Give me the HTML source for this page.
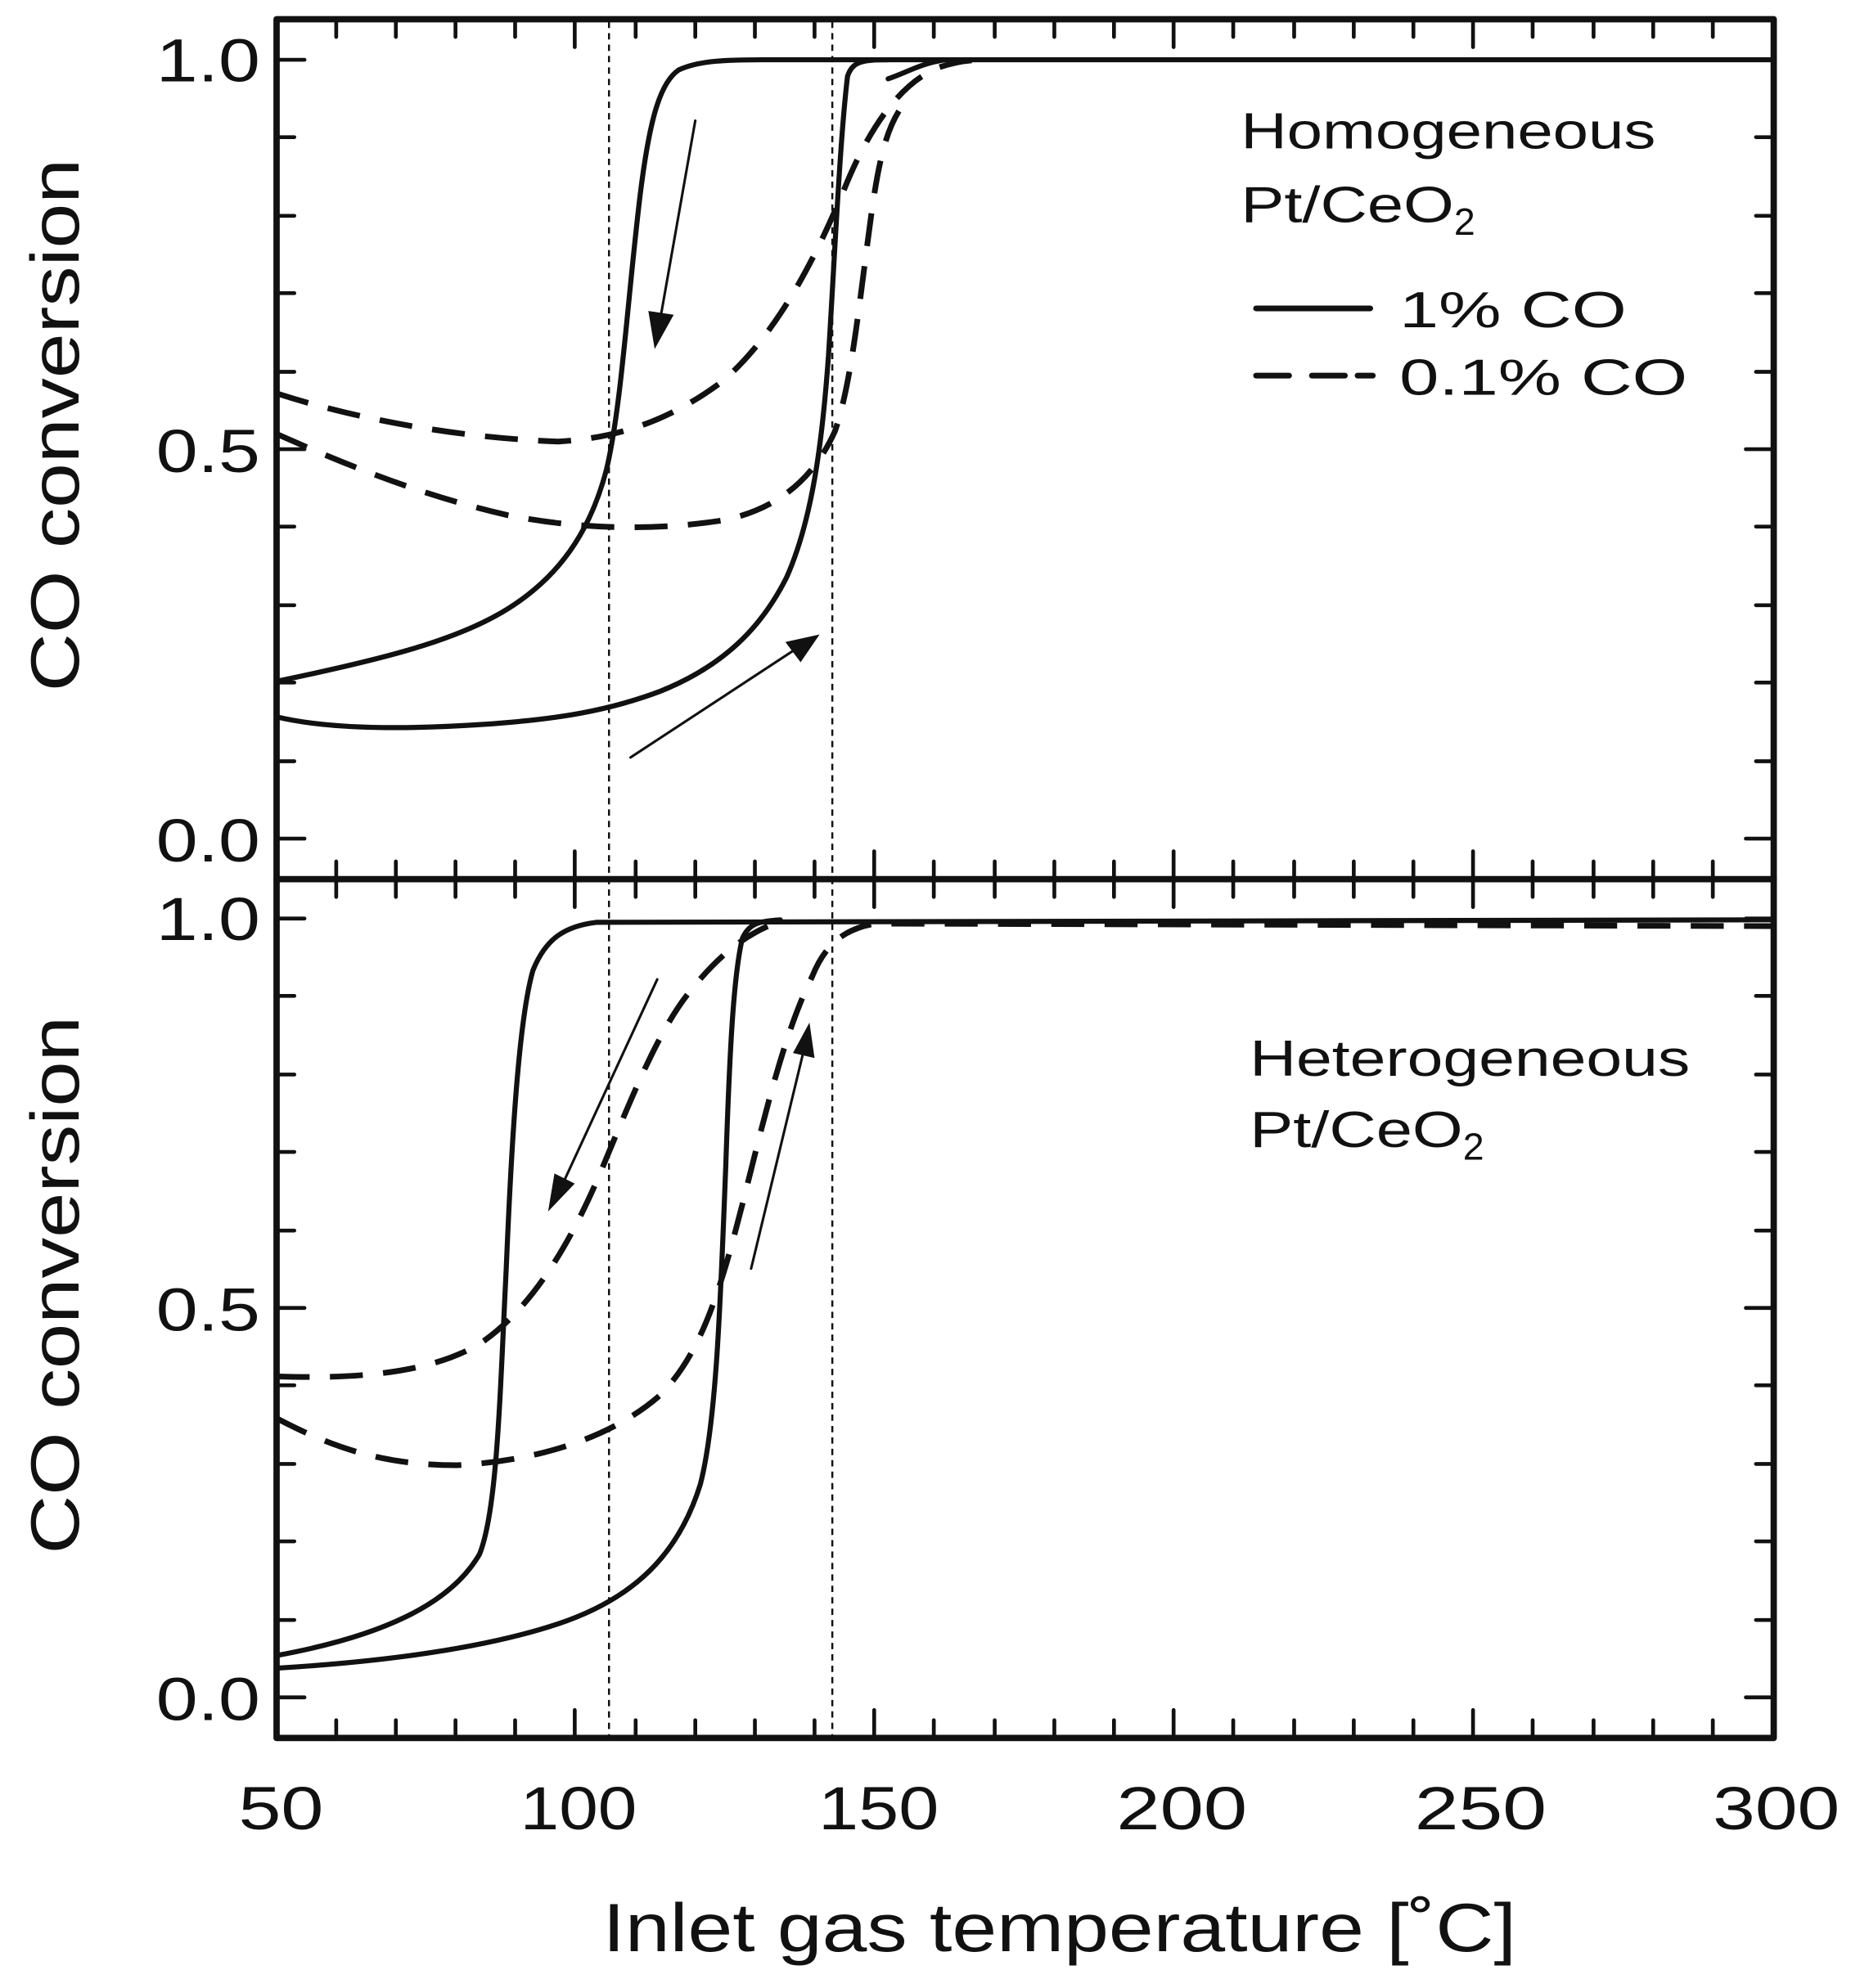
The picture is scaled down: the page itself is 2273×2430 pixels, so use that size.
<!DOCTYPE html>
<html><head><meta charset="utf-8"><style>
html,body{margin:0;padding:0;background:#fff}
svg{display:block}
text{font-family:"Liberation Sans",Arial,sans-serif;fill:#111}
</style></head><body>
<svg width="2273" height="2430" viewBox="0 0 1466 1567" xmlns="http://www.w3.org/2000/svg">
<g fill="none" stroke="#111" stroke-linejoin="round" stroke-linecap="round">
<rect x="218" y="15" width="1180" height="1355" stroke-width="5"/>
<line x1="218" y1="693" x2="1398" y2="693" stroke-width="5"/>
<g stroke-width="3">
<path d="M265,15v14M312,15v14M359,15v14M406,15v14M453,15v22M501,15v14M548,15v14M595,15v14M642,15v14M689,15v22M736,15v14M784,15v14M831,15v14M878,15v14M925,15v22M972,15v14M1020,15v14M1067,15v14M1114,15v14M1161,15v22M1208,15v14M1256,15v14M1303,15v14M1350,15v14"/>
<path d="M265,693v-14M312,693v-14M359,693v-14M406,693v-14M453,693v-22M501,693v-14M548,693v-14M595,693v-14M642,693v-14M689,693v-22M736,693v-14M784,693v-14M831,693v-14M878,693v-14M925,693v-22M972,693v-14M1020,693v-14M1067,693v-14M1114,693v-14M1161,693v-22M1208,693v-14M1256,693v-14M1303,693v-14M1350,693v-14"/>
<path d="M265,693v14M312,693v14M359,693v14M406,693v14M453,693v22M501,693v14M548,693v14M595,693v14M642,693v14M689,693v22M736,693v14M784,693v14M831,693v14M878,693v14M925,693v22M972,693v14M1020,693v14M1067,693v14M1114,693v14M1161,693v22M1208,693v14M1256,693v14M1303,693v14M1350,693v14"/>
<path d="M265,1370v-14M312,1370v-14M359,1370v-14M406,1370v-14M453,1370v-22M501,1370v-14M548,1370v-14M595,1370v-14M642,1370v-14M689,1370v-22M736,1370v-14M784,1370v-14M831,1370v-14M878,1370v-14M925,1370v-22M972,1370v-14M1020,1370v-14M1067,1370v-14M1114,1370v-14M1161,1370v-22M1208,1370v-14M1256,1370v-14M1303,1370v-14M1350,1370v-14"/>
</g>
<g stroke-width="3">
<path d="M218,661h22M218,600h14M218,538h14M218,477h14M218,415h14M218,354h22M218,293h14M218,231h14M218,170h14M218,108h14M218,47h22"/>
<path d="M1398,661h-22M1398,600h-14M1398,538h-14M1398,477h-14M1398,415h-14M1398,354h-22M1398,293h-14M1398,231h-14M1398,170h-14M1398,108h-14M1398,47h-22"/>
<path d="M218,1338h22M218,1277h14M218,1215h14M218,1154h14M218,1092h14M218,1031h22M218,970h14M218,908h14M218,847h14M218,785h14M218,724h22"/>
<path d="M1398,1338h-22M1398,1277h-14M1398,1215h-14M1398,1154h-14M1398,1092h-14M1398,1031h-22M1398,970h-14M1398,908h-14M1398,847h-14M1398,785h-14M1398,724h-22"/>
</g>
<g stroke-width="1.6" stroke-dasharray="5,4" stroke-linecap="butt">
<line x1="480" y1="17" x2="480" y2="1368"/>
<line x1="656" y1="17" x2="656" y2="1368"/>
</g>
<g stroke-width="4">
<path d="M218,537 C300,520 360,505 400,480 C440,455 465,420 478,370 C490,320 495,230 505,150 C512,95 520,65 535,55 C550,48 570,47 600,47 L1398,47"/>
<path d="M218,565 C260,575 320,575 380,571 C440,567 480,560 520,545 C570,525 600,495 620,455 C640,410 648,350 653,280 C658,200 662,110 668,60 C672,48 680,47 700,47"/>
<path d="M700,62 C715,57 725,50 745,47"/>
</g>
<g stroke-width="4.5" stroke-dasharray="26,16" stroke-linecap="butt">
<path d="M218,310 C280,330 360,345 440,348 C490,345 530,330 570,300 C610,265 640,210 665,150 C685,100 710,65 740,53 C755,48 765,47 780,47"/>
<path d="M218,342 C270,365 330,390 400,406 C460,418 520,418 570,410 C610,402 640,380 658,340 C672,300 678,230 688,160 C694,120 700,100 710,85"/>
</g>
<g stroke-width="4">
<path d="M218,1305 C300,1290 355,1265 378,1225 C392,1190 394,1100 399,1000 C404,880 410,800 420,765 C430,740 445,730 470,727 C500,725 600,725 1398,725"/>
<path d="M218,1315 C300,1310 380,1300 440,1280 C500,1260 535,1225 552,1170 C565,1120 568,1020 572,920 C575,830 578,770 585,740 C590,728 598,726 615,725"/>
</g>
<g stroke-width="4.5" stroke-dasharray="26,16" stroke-linecap="butt">
<path d="M218,1085 C280,1087 340,1083 380,1058 C420,1030 450,980 475,920 C500,860 520,810 545,780 C565,755 585,738 610,728"/>
<path d="M218,1118 C260,1140 300,1155 360,1155 C420,1152 480,1135 520,1100 C555,1065 570,1010 590,930 C605,870 620,810 640,770 C650,745 665,732 690,728 L1398,730"/>
</g>
<g stroke-width="2">
<line x1="548" y1="95" x2="521" y2="248"/>
<line x1="497" y1="597" x2="625" y2="513"/>
<line x1="518" y1="772" x2="445" y2="930"/>
<line x1="592" y1="1000" x2="633" y2="830"/>
<line x1="990" y1="243" x2="1080" y2="243" stroke-width="4.5"/>
<path d="M990,296h26M1034,296h26M1070,296h12" stroke-width="4.5"/>
</g>
</g>
<g fill="#111" stroke="none">
<polygon points="516,275 511,245 531,248"/>
<polygon points="646,500 619,506 631,522"/>
<polygon points="432,955 437,925 453,933"/>
<polygon points="638,806 625,830 642,834"/>
</g>
<g font-size="48" lengthAdjust="spacingAndGlyphs">
<text x="123" y="64" textLength="82" lengthAdjust="spacingAndGlyphs">1.0</text>
<text x="123" y="372" textLength="82" lengthAdjust="spacingAndGlyphs">0.5</text>
<text x="123" y="679" textLength="82" lengthAdjust="spacingAndGlyphs">0.0</text>
<text x="123" y="741" textLength="82" lengthAdjust="spacingAndGlyphs">1.0</text>
<text x="123" y="1049" textLength="82" lengthAdjust="spacingAndGlyphs">0.5</text>
<text x="123" y="1356" textLength="82" lengthAdjust="spacingAndGlyphs">0.0</text>
<text x="188" y="1442" textLength="67" lengthAdjust="spacingAndGlyphs">50</text>
<text x="410" y="1442" textLength="92" lengthAdjust="spacingAndGlyphs">100</text>
<text x="645" y="1442" textLength="95" lengthAdjust="spacingAndGlyphs">150</text>
<text x="880" y="1442" textLength="103" lengthAdjust="spacingAndGlyphs">200</text>
<text x="1115" y="1442" textLength="104" lengthAdjust="spacingAndGlyphs">250</text>
<text x="1350" y="1442" textLength="100" lengthAdjust="spacingAndGlyphs">300</text>
</g>
<text x="475" y="1538" font-size="54" textLength="720" lengthAdjust="spacingAndGlyphs">Inlet gas temperature [˚C]</text>
<text transform="translate(62,335) rotate(-90)" x="-210" font-size="54" textLength="420" lengthAdjust="spacingAndGlyphs">CO conversion</text>
<text transform="translate(62,1013) rotate(-90)" x="-212" font-size="54" textLength="424" lengthAdjust="spacingAndGlyphs">CO conversion</text>
<g font-size="40">
<text x="978" y="117" textLength="327" lengthAdjust="spacingAndGlyphs">Homogeneous</text>
<text x="978" y="175"><tspan textLength="168" lengthAdjust="spacingAndGlyphs">Pt/CeO</tspan><tspan font-size="30" dy="10">2</tspan></text>
<text x="1103" y="258" textLength="179" lengthAdjust="spacingAndGlyphs">1% CO</text>
<text x="1103" y="311" textLength="227" lengthAdjust="spacingAndGlyphs">0.1% CO</text>
<text x="985" y="848" textLength="347" lengthAdjust="spacingAndGlyphs">Heterogeneous</text>
<text x="985" y="904"><tspan textLength="168" lengthAdjust="spacingAndGlyphs">Pt/CeO</tspan><tspan font-size="30" dy="10">2</tspan></text>
</g>
</svg>
</body></html>
